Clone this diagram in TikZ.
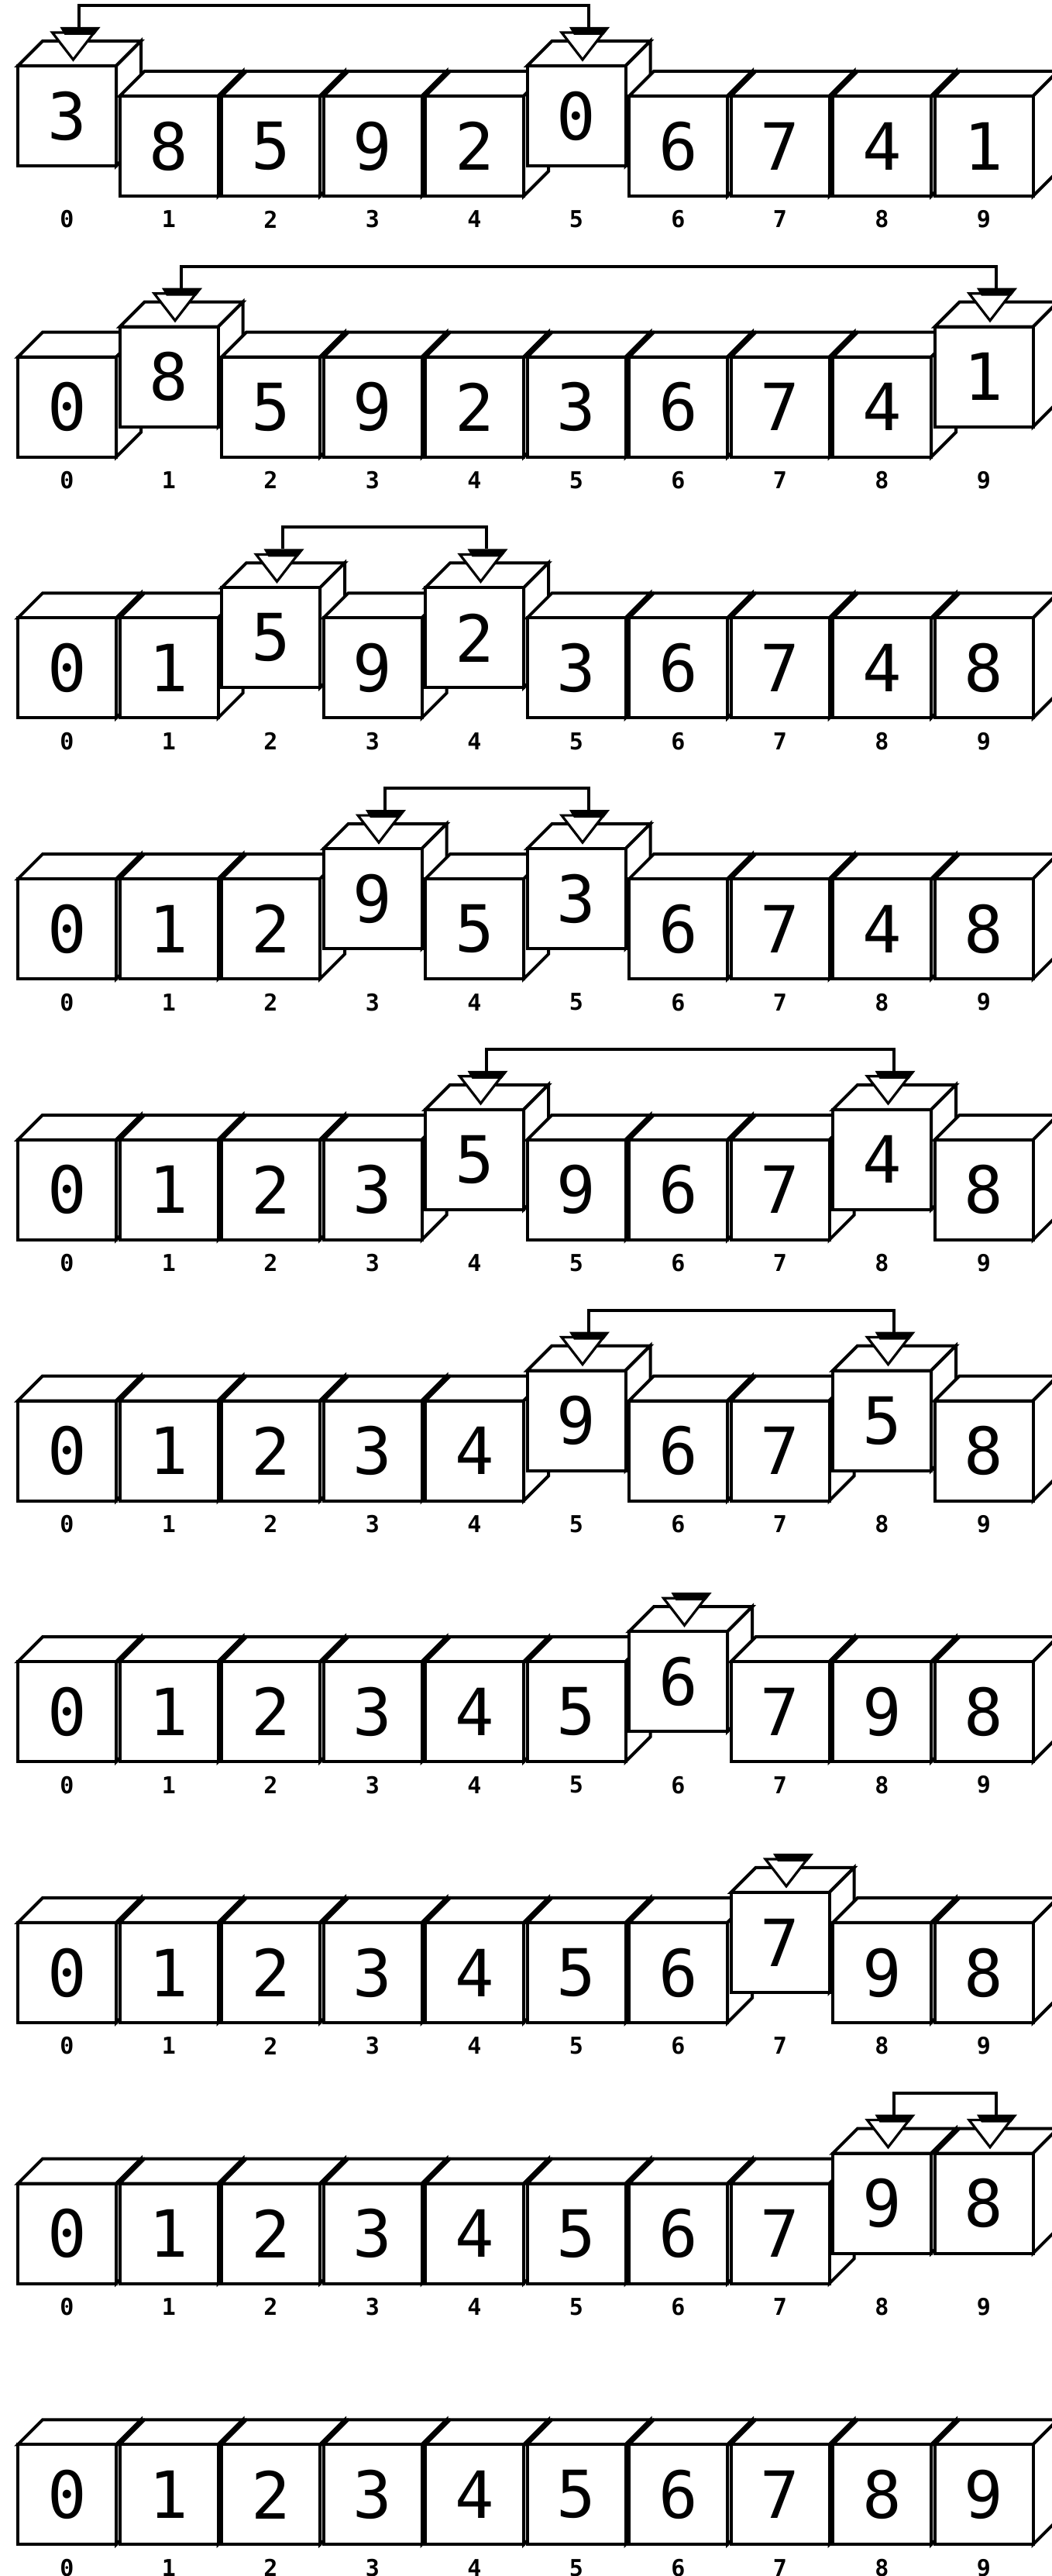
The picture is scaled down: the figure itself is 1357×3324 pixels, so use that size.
\documentclass[tikz,border=0pt]{standalone}
\usepackage{fontspec}
\newfontfamily\cellfont{DejaVu Sans Mono}
\usepackage{tikz}
\usetikzlibrary{calc}
\tikzset{
  cface/.style={draw, fill=white, line width=2pt, line join=miter},
  cnum/.style={cface, minimum width=63.5pt, minimum height=64.5pt, inner sep=0pt,
               font=\cellfont\fontsize{42}{42}\selectfont},
  cidx/.style={inner sep=0pt, font=\cellfont\bfseries\fontsize{15}{15}\selectfont},
  ptri/.style={draw, fill=white, line width=1.6pt, line join=miter},
  ptop/.style={fill=black},
  swl/.style={line width=2pt, line join=miter},
}

\begin{document}
\begin{tikzpicture}[x=0.5pt,y=-0.5pt]
  \useasboundingbox (0,0) rectangle (1357,3324);
  % one row per pass: value/raised
  \foreach \rw/\vals in {
      0/{3/1,8/0,5/0,9/0,2/0,0/1,6/0,7/0,4/0,1/0},
      1/{0/0,8/1,5/0,9/0,2/0,3/0,6/0,7/0,4/0,1/1},
      2/{0/0,1/0,5/1,9/0,2/1,3/0,6/0,7/0,4/0,8/0},
      3/{0/0,1/0,2/0,9/1,5/0,3/1,6/0,7/0,4/0,8/0},
      4/{0/0,1/0,2/0,3/0,5/1,9/0,6/0,7/0,4/1,8/0},
      5/{0/0,1/0,2/0,3/0,4/0,9/1,6/0,7/0,5/1,8/0},
      6/{0/0,1/0,2/0,3/0,4/0,5/0,6/1,7/0,9/0,8/0},
      7/{0/0,1/0,2/0,3/0,4/0,5/0,6/0,7/1,9/0,8/0},
      8/{0/0,1/0,2/0,3/0,4/0,5/0,6/0,7/0,9/1,8/1},
      9/{0/0,1/0,2/0,3/0,4/0,5/0,6/0,7/0,8/0,9/0}}{
    \foreach \val/\up [count=\ci from 0] in \vals {
      \pgfmathsetmacro\cellx{23+131.5*\ci}
      \pgfmathsetmacro\celly{124+336.7*\rw-39*\up}
      \draw[cface] (\cellx,\celly) -- ++(32,-32) -- ++(127,0) -- ++(-32,32) -- cycle;
      \draw[cface] (\cellx+127,\celly) -- ++(32,-32) -- ++(0,129) -- ++(-32,32) -- cycle;
      \node[cnum] (b-\rw-\ci) at (\cellx+63.5,\celly+64.5) {\val};
      \node[cidx] (l-\rw-\ci) at (\cellx+63.5,{283+336.7*\rw}) {\ci};
      \ifnum\up=1
        \coordinate (m-\rw-\ci) at (\cellx+79,\celly-50);
        \draw[ptri] (\cellx+44.5,\celly-43) -- ++(54,0) -- (\cellx+71.5,\celly-8) -- cycle;
        \fill[ptop] (\cellx+54.5,\celly-50) -- ++(52,0) -- ++(-8,10) -- ++(-38,0) -- cycle;
      \fi
    }
  }
  % swaps
  \draw[swl] (m-0-0) -- ++(0,-28) -| (m-0-5);
  \draw[swl] (m-1-1) -- ++(0,-28) -| (m-1-9);
  \draw[swl] (m-2-2) -- ++(0,-28) -| (m-2-4);
  \draw[swl] (m-3-3) -- ++(0,-28) -| (m-3-5);
  \draw[swl] (m-4-4) -- ++(0,-28) -| (m-4-8);
  \draw[swl] (m-5-5) -- ++(0,-28) -| (m-5-8);
  \draw[swl] (m-8-8) -- ++(0,-28) -| (m-8-9);
\end{tikzpicture}
\end{document}
